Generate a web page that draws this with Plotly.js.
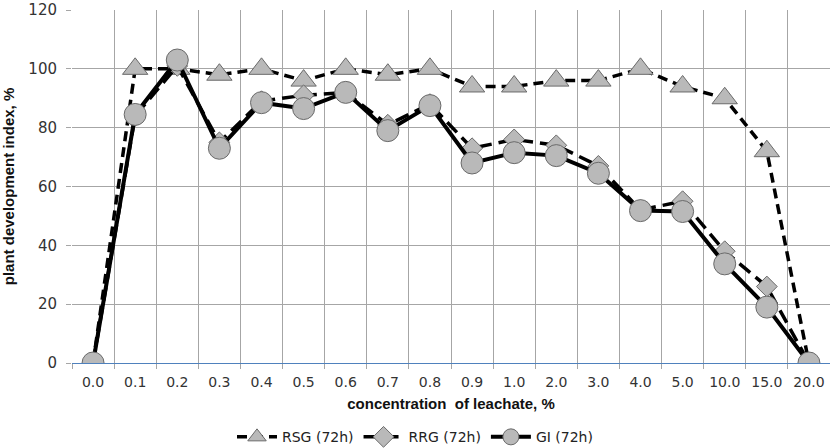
<!DOCTYPE html>
<html>
<head>
<meta charset="utf-8">
<script src="https://cdn.plot.ly/plotly-3.0.1.min.js"></script>
<style>html,body{margin:0;padding:0;background:#fff}#chart{width:830px;height:448px}</style>
</head>
<body>
<div id="chart"></div>
<script>
const categories = ["0.0","0.1","0.2","0.3","0.4","0.5","0.6","0.7","0.8","0.9","1.0","2.0","3.0","4.0","5.0","10.0","15.0","20.0"];
const rsg = [0, 100, 100, 98, 100, 96, 100, 98, 100, 94, 94, 96, 96, 100, 94, 90, 72, 0];
const rrg = [0, 84, 101, 75, 89, 91, 92, 81, 88, 73, 76, 74, 67, 52, 55, 38, 26, 0];
const gi  = [0, 84.5, 103, 73, 88.5, 86.5, 92, 79, 87.5, 68, 71.5, 70.5, 64.5, 51.8, 51.5, 33.7, 19, 0];
const seriesNames = ["RSG (72h)", "RRG (72h)", "GI (72h)"];
const yTicks = [0, 20, 40, 60, 80, 100, 120];

const fill = '#b9b9b9', edge = '#6a6a6a';
const traces = [
  {x: categories, y: rsg, name: seriesNames[0], mode: 'lines+markers', type: 'scatter',
   line: {color: '#000', width: 3.5, dash: '10px,6px'},
   marker: {symbol: 'triangle-up', size: 22, color: fill, line: {color: edge, width: 1}}},
  {x: categories, y: rrg, name: seriesNames[1], mode: 'lines+markers', type: 'scatter',
   line: {color: '#000', width: 3.5, dash: '14px,7px'},
   marker: {symbol: 'diamond', size: 16, color: fill, line: {color: edge, width: 1}}},
  {x: categories, y: gi, name: seriesNames[2], mode: 'lines+markers', type: 'scatter',
   line: {color: '#000', width: 4},
   marker: {symbol: 'circle', size: 22, color: fill, line: {color: edge, width: 1}}}
];

const layout = {
  width: 830, height: 448,
  margin: {l: 72, r: 0, t: 10, b: 85},
  paper_bgcolor: '#fff', plot_bgcolor: '#fff',
  showlegend: true,
  legend: {orientation: 'h', xref: 'container', yref: 'container', x: 0.5, xanchor: 'center',
           y: 0.024, yanchor: 'middle',
           font: {family: 'DejaVu Sans, Verdana, sans-serif', size: 14, color: '#222'},
           itemwidth: 40, tracegroupgap: 0},
  xaxis: {
    type: 'category', range: [-0.5, 17.5], tickson: 'boundaries',
    showgrid: true, gridcolor: '#a6a6a6', gridwidth: 1,
    ticks: 'outside', ticklen: 5, tickcolor: '#a6a6a6',
    tickfont: {family: 'DejaVu Sans, Verdana, sans-serif', size: 14, color: '#333'},
    ticklabelstandoff: 9,
    showline: false, zeroline: false, fixedrange: true, automargin: false,
    title: {text: 'concentration  of leachate, %', standoff: 9,
            font: {family: 'Liberation Sans, Arial, sans-serif', size: 15, color: '#111', weight: 'bold'}}
  },
  yaxis: {
    range: [0, 120], tickvals: yTicks, ticktext: yTicks.map(String),
    showgrid: true, gridcolor: '#a6a6a6', gridwidth: 1,
    ticks: 'outside', ticklen: 5, tickcolor: '#a6a6a6',
    tickfont: {family: 'DejaVu Sans, Verdana, sans-serif', size: 15, color: '#333'},
    ticklabelstandoff: 6,
    zeroline: true, zerolinecolor: '#4f81bd', zerolinewidth: 1,
    showline: false, fixedrange: true, automargin: false,
    title: {text: 'plant development index, %', standoff: 14,
            font: {family: 'Liberation Sans, Arial, sans-serif', size: 15, color: '#111', weight: 'bold'}}
  }
};

Plotly.newPlot('chart', traces, layout, {displayModeBar: false, staticPlot: true});
</script>
</body>
</html>
